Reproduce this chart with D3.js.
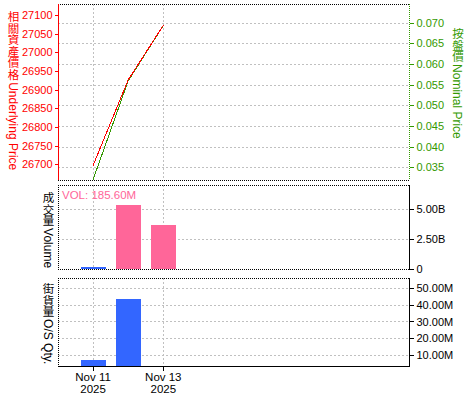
<!DOCTYPE html>
<html>
<head>
<meta charset="utf-8">
<script src="https://cdn.jsdelivr.net/npm/d3@7"></script>
<style>
body { margin: 0; background: #fff; }
text { font-family: "Liberation Sans", "Noto Sans CJK TC", sans-serif; }
</style>
</head>
<body>
<div id="chart"></div>
<script>
// data
var dates = ["2025-11-11", "2025-11-12", "2025-11-13"];
var underlying = [26697, 26926, 27072];
var nominal = [0.0320, 0.0559, 0.0693];
var volume = [0.15e9, 5.33e9, 3.67e9];
var volumeUp = [false, true, true];
var osDates = ["2025-11-11", "2025-11-12"];
var osQty = [7.0e6, 43.4e6];
var leftTicks = [26700, 26750, 26800, 26850, 26900, 26950, 27000, 27050, 27100];
var rightTicks = [0.035, 0.040, 0.045, 0.050, 0.055, 0.060, 0.065, 0.070];
var volTicks = [0, 2.5e9, 5e9];
var osTicks = [10e6, 20e6, 30e6, 40e6, 50e6];
var xTicks = ["2025-11-11", "2025-11-13"];
var volLabel = "VOL: 185.60M";

var W = 475, H = 400;
var left = 58, right = 409;
var parse = d3.timeParse("%Y-%m-%d");

var svg = d3.select("#chart").append("svg")
    .attr("width", W).attr("height", H);

var x = d3.scaleTime()
    .domain([parse("2025-11-10"), parse("2025-11-20")])
    .range([left, right]);

// panels
var p1 = {top: 4, bottom: 180};
var p2 = {top: 185, bottom: 269};
var p3 = {top: 278, bottom: 366};

var yL = d3.scaleLinear().domain([26658, 27129]).range([p1.bottom, p1.top]);
var yR = d3.scaleLinear().domain([0.0319, 0.0745]).range([p1.bottom, p1.top]);
var yV = d3.scaleLinear().domain([0, 7.0e9]).range([p2.bottom, p2.top]);
var yO = d3.scaleLinear().domain([3.4e6, 56e6]).range([p3.bottom, p3.top]);

var grey = "#c0c0c0";
var red = "#ff0000";
var green = "#339900";
var pink = "#ff6699";
var blue = "#3366ff";

function hline(y, color, dash) {
    svg.append("line")
        .attr("x1", left).attr("x2", right)
        .attr("y1", y + 0.5).attr("y2", y + 0.5)
        .attr("stroke", color)
        .attr("stroke-dasharray", dash)
        .attr("shape-rendering", "crispEdges");
}
function vline(xx, y1, y2, color, dash) {
    svg.append("line")
        .attr("x1", xx + 0.5).attr("x2", xx + 0.5)
        .attr("y1", y1).attr("y2", y2)
        .attr("stroke", color)
        .attr("stroke-dasharray", dash)
        .attr("shape-rendering", "crispEdges");
}

// gridlines
[p1, p2, p3].forEach(function(p) {
    xTicks.forEach(function(t) {
        vline(Math.round(x(parse(t))), p.top, p.bottom, grey, "2,2");
    });
});
rightTicks.forEach(function(t) { hline(Math.round(yR(t)), grey, "2,2"); });
volTicks.filter(function(t) { return t > 0; })
    .forEach(function(t) { hline(Math.round(yV(t)), grey, "2,2"); });
osTicks.forEach(function(t) { hline(Math.round(yO(t)), grey, "2,2"); });

// top panel lines
var line = function(vals, sc) {
    return d3.line()
        .x(function(d, i) { return x(parse(dates[i])); })
        .y(function(d) { return sc(d); })(vals);
};
svg.append("clipPath").attr("id", "c1")
    .append("rect").attr("x", left).attr("y", p1.top)
    .attr("width", right - left).attr("height", p1.bottom - p1.top);
svg.append("path")
    .attr("d", line(nominal, yR))
    .attr("clip-path", "url(#c1)")
    .attr("fill", "none").attr("stroke", green).attr("stroke-width", 1)
    .attr("shape-rendering", "crispEdges");
svg.append("path")
    .attr("d", line(underlying, yL))
    .attr("clip-path", "url(#c1)")
    .attr("fill", "none").attr("stroke", red).attr("stroke-width", 1)
    .attr("shape-rendering", "crispEdges");

// volume bars
var bw = 25;
svg.selectAll(".vol").data(volume).enter().append("rect")
    .attr("x", function(d, i) { return Math.round(x(parse(dates[i])) - bw / 2); })
    .attr("y", function(d) { return yV(d); })
    .attr("width", bw)
    .attr("height", function(d) { return p2.bottom - yV(d); })
    .attr("fill", function(d, i) { return volumeUp[i] ? pink : blue; })
    .attr("shape-rendering", "crispEdges");

// os bars
svg.selectAll(".os").data(osQty).enter().append("rect")
    .attr("x", function(d, i) { return Math.round(x(parse(osDates[i])) - bw / 2); })
    .attr("y", function(d) { return yO(d); })
    .attr("width", bw)
    .attr("height", function(d) { return p3.bottom - yO(d); })
    .attr("fill", blue)
    .attr("shape-rendering", "crispEdges");

// borders
hline(p1.top, "#000", "1,1");
hline(p1.bottom, "#000", "1,1");
hline(p2.top, "#000", "1,1");
hline(p2.bottom, "#000", "1,1");
hline(p3.top, "#000", "1,1");
hline(p3.bottom, "#000", null);
vline(left, p2.top, p2.bottom, "#000", "1,1");
vline(left, p3.top, p3.bottom, "#000", "1,1");

// left axis (red)
var gL = svg.append("g")
    .attr("transform", "translate(" + (left + 0.5) + ",0)")
    .call(d3.axisLeft(yL).tickValues(leftTicks).tickSize(4).tickPadding(2)
        .tickFormat(d3.format("d")));
gL.select(".domain").attr("d", "M0," + p1.top + "V" + p1.bottom)
    .attr("stroke", red).attr("shape-rendering", "crispEdges");
gL.selectAll("line").attr("stroke", red).attr("shape-rendering", "crispEdges");
gL.selectAll("text").attr("fill", red).attr("font-size", 11)
    .attr("font-family", "Liberation Sans");

// right axis (green)
var gR = svg.append("g")
    .attr("transform", "translate(" + (right + 0.5) + ",0)")
    .call(d3.axisRight(yR).tickValues(rightTicks).tickSize(4).tickPadding(3)
        .tickFormat(d3.format(".3f")));
gR.select(".domain").attr("d", "M0," + p1.top + "V" + p1.bottom)
    .attr("stroke", green).attr("stroke-dasharray", "1,1")
    .attr("shape-rendering", "crispEdges");
gR.selectAll("line").attr("stroke", green).attr("shape-rendering", "crispEdges");
gR.selectAll("text").attr("fill", green).attr("font-size", 11)
    .attr("font-family", "Liberation Sans");

// volume axis
var fmtB = function(d) { return d === 0 ? "0" : d3.format(".2f")(d / 1e9) + "B"; };
var gV = svg.append("g")
    .attr("transform", "translate(" + (right + 0.5) + ",0)")
    .call(d3.axisRight(yV).tickValues(volTicks).tickSize(4).tickPadding(3).tickFormat(fmtB));
gV.select(".domain").attr("d", "M0," + p2.top + "V" + (p2.bottom + 1))
    .attr("shape-rendering", "crispEdges");
gV.selectAll("line").attr("shape-rendering", "crispEdges");
gV.selectAll("text").attr("font-size", 11).attr("font-family", "Liberation Sans");

// os axis
var fmtM = function(d) { return d3.format(".2f")(d / 1e6) + "M"; };
var gO = svg.append("g")
    .attr("transform", "translate(" + (right + 0.5) + ",0)")
    .call(d3.axisRight(yO).tickValues(osTicks).tickSize(4).tickPadding(3).tickFormat(fmtM));
gO.select(".domain").attr("d", "M0," + p3.top + "V" + (p3.bottom + 1))
    .attr("shape-rendering", "crispEdges");
gO.selectAll("line").attr("shape-rendering", "crispEdges");
gO.selectAll("text").attr("font-size", 11).attr("font-family", "Liberation Sans");

// x axis
var gX = svg.append("g")
    .attr("transform", "translate(0," + (p3.bottom + 0.5) + ")")
    .call(d3.axisBottom(x).tickValues(xTicks.map(parse)).tickSize(4).tickFormat(""));
gX.select(".domain").remove();
gX.selectAll("line").attr("shape-rendering", "crispEdges");
xTicks.forEach(function(t) {
    var xx = x(parse(t));
    var lab = svg.append("text")
        .attr("text-anchor", "middle")
        .attr("font-size", 11.5)
        .attr("fill", "#000");
    lab.append("tspan").attr("x", xx).attr("y", 381).text(d3.timeFormat("%b %d")(parse(t)));
    lab.append("tspan").attr("x", xx).attr("y", 393).text(d3.timeFormat("%Y")(parse(t)));
});

// VOL label
svg.append("text")
    .attr("x", 62).attr("y", 199)
    .attr("font-size", 11.5)
    .attr("fill", pink)
    .text(volLabel);

// vertical axis titles: CJK upright in vertical mode, latin part turned clockwise
function vtitle(cjk, latin, xx, y, color) {
    var g = svg.append("g").attr("fill", color);
    g.append("text")
        .attr("x", xx).attr("y", y)
        .attr("font-family", "Noto Sans CJK TC")
        .attr("font-size", 11.5)
        .style("writing-mode", "vertical-rl")
        .style("text-orientation", "upright")
        .text(cjk);
    var y0 = y + cjk.length * 11.7 + 1;
    g.append("text")
        .attr("transform", "translate(" + (xx - 4) + "," + y0 + ") rotate(90)")
        .attr("font-size", 12)
        .text(latin);
}
vtitle("相關資產價格", "Underlying Price", 12.5, 11, red);
vtitle("按盤價", "Nominal Price", 457, 28, green);
vtitle("成交量", "Volume", 47.5, 192, "#000");
vtitle("街貨量", "O/S Qty.", 47.5, 283, "#000");
</script>
</body>
</html>
